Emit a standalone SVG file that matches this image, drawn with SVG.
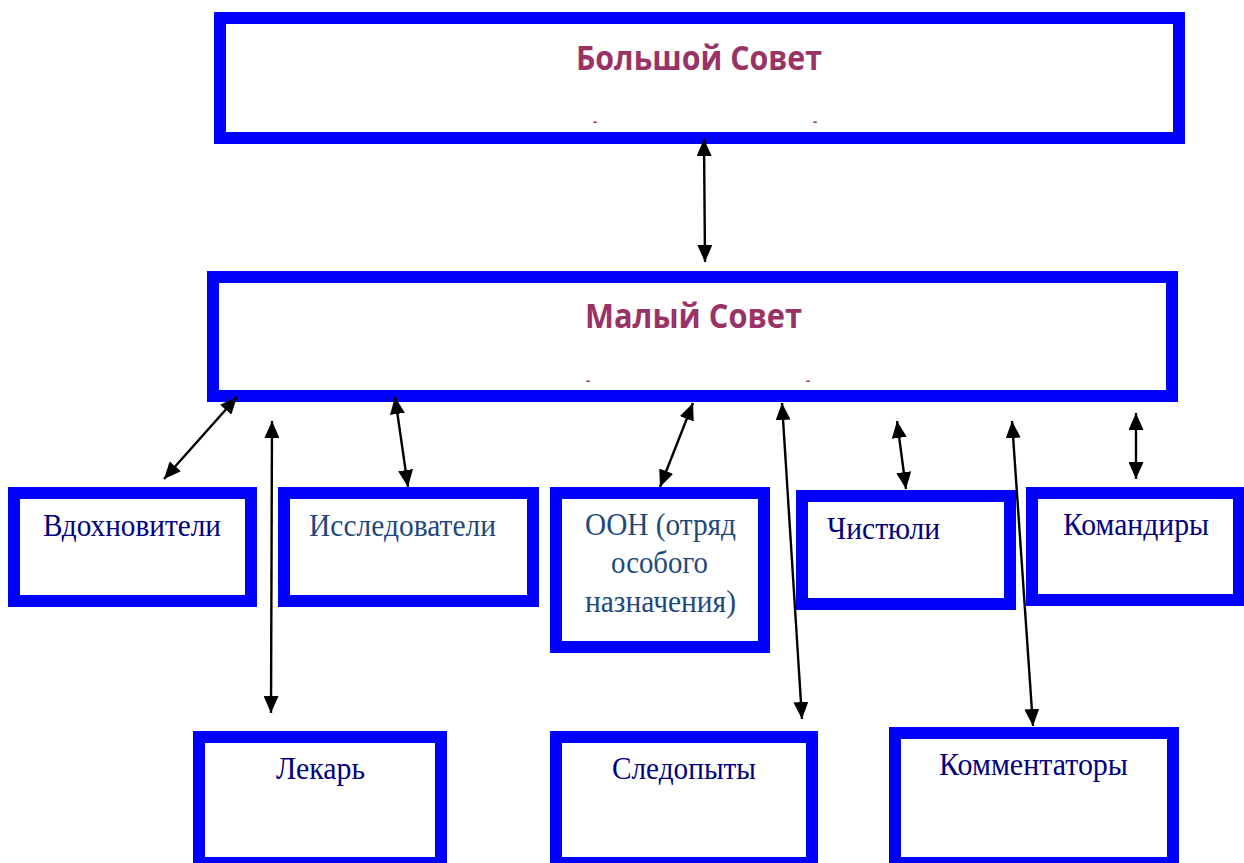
<svg xmlns="http://www.w3.org/2000/svg" width="1244" height="863" viewBox="0 0 1244 863">
<defs>
<style>
.box{fill:#fff;stroke:#0000ff;stroke-width:12}
.hd{font-family:"Open Sans","Liberation Sans",sans-serif;font-weight:bold;font-size:34px;fill:#993366}
.dash{font-family:"Open Sans","Liberation Sans",sans-serif;font-size:13px;font-weight:bold;fill:#993366}
.lb{font-family:"Liberation Serif","Times New Roman",serif;font-size:31px;fill:#000080}
.lb2{font-family:"Liberation Serif","Times New Roman",serif;font-size:31px;fill:#1f497d}
.con{stroke:#000;stroke-width:2.4;fill:none;marker-start:url(#ah);marker-end:url(#ah)}
</style>
<marker id="ah" markerUnits="userSpaceOnUse" markerWidth="17" markerHeight="15" refX="17" refY="7.5" orient="auto-start-reverse" viewBox="0 0 17 15">
<path d="M0,0 L17,7.5 L0,15 z" fill="#000"/>
</marker>
</defs>
<rect width="1244" height="863" fill="#fff"/>
<g id="bolshoy-sovet">
<rect class="box" x="220" y="18" width="959" height="120"/>
<text class="hd" x="699" y="70" text-anchor="middle" textLength="246" lengthAdjust="spacingAndGlyphs">Большой Совет</text>
<text class="dash" x="595" y="126" text-anchor="middle">-</text>
<text class="dash" x="815" y="126" text-anchor="middle">-</text>
</g>
<g id="maly-sovet">
<rect class="box" x="213" y="277" width="959" height="119"/>
<text class="hd" x="693.5" y="328" text-anchor="middle" textLength="217" lengthAdjust="spacingAndGlyphs">Малый Совет</text>
<text class="dash" x="588" y="385" text-anchor="middle">-</text>
<text class="dash" x="808" y="385" text-anchor="middle">-</text>
</g>
<g id="vdokhnoviteli">
<rect class="box" x="14" y="493" width="237" height="108"/>
<text class="lb" x="43" y="536" textLength="178" lengthAdjust="spacingAndGlyphs">Вдохновители</text>
</g>
<g id="issledovateli">
<rect class="box" x="284" y="493" width="249" height="108"/>
<text class="lb2" x="309" y="536" textLength="187" lengthAdjust="spacingAndGlyphs">Исследователи</text>
</g>
<g id="oon">
<rect class="box" x="556" y="493" width="208" height="154"/>
<text class="lb2" x="585" y="535" textLength="151" lengthAdjust="spacingAndGlyphs">ООН (отряд</text>
<text class="lb2" x="611" y="573" textLength="97" lengthAdjust="spacingAndGlyphs">особого</text>
<text class="lb2" x="585" y="612" textLength="151" lengthAdjust="spacingAndGlyphs">назначения)</text>
</g>
<g id="chistyuli">
<rect class="box" x="802" y="496" width="208" height="108"/>
<text class="lb" x="827" y="539" textLength="113" lengthAdjust="spacingAndGlyphs">Чистюли</text>
</g>
<g id="komandiry">
<rect class="box" x="1032" y="493" width="207" height="107"/>
<text class="lb" x="1063" y="535" textLength="146" lengthAdjust="spacingAndGlyphs">Командиры</text>
</g>
<g id="lekar">
<rect class="box" x="199" y="737" width="242" height="126"/>
<text class="lb" x="276" y="779" textLength="89" lengthAdjust="spacingAndGlyphs">Лекарь</text>
</g>
<g id="sledopyty">
<rect class="box" x="556" y="737" width="256" height="126"/>
<text class="lb" x="612" y="779" textLength="144" lengthAdjust="spacingAndGlyphs">Следопыты</text>
</g>
<g id="kommentatory">
<rect class="box" x="895" y="733" width="278" height="130"/>
<text class="lb" x="939" y="775" textLength="189" lengthAdjust="spacingAndGlyphs">Комментаторы</text>
</g>
<g id="connectors">
<line class="con" x1="704" y1="139" x2="705" y2="262"/>
<line class="con" x1="237" y1="397" x2="164" y2="479"/>
<line class="con" x1="272" y1="421" x2="271" y2="713"/>
<line class="con" x1="395" y1="397" x2="408" y2="487"/>
<line class="con" x1="693" y1="403" x2="660" y2="487"/>
<line class="con" x1="782" y1="403" x2="802" y2="719"/>
<line class="con" x1="897" y1="421" x2="906" y2="489"/>
<line class="con" x1="1012" y1="421" x2="1033" y2="726"/>
<line class="con" x1="1136" y1="413" x2="1136" y2="479"/>
</g>
</svg>
